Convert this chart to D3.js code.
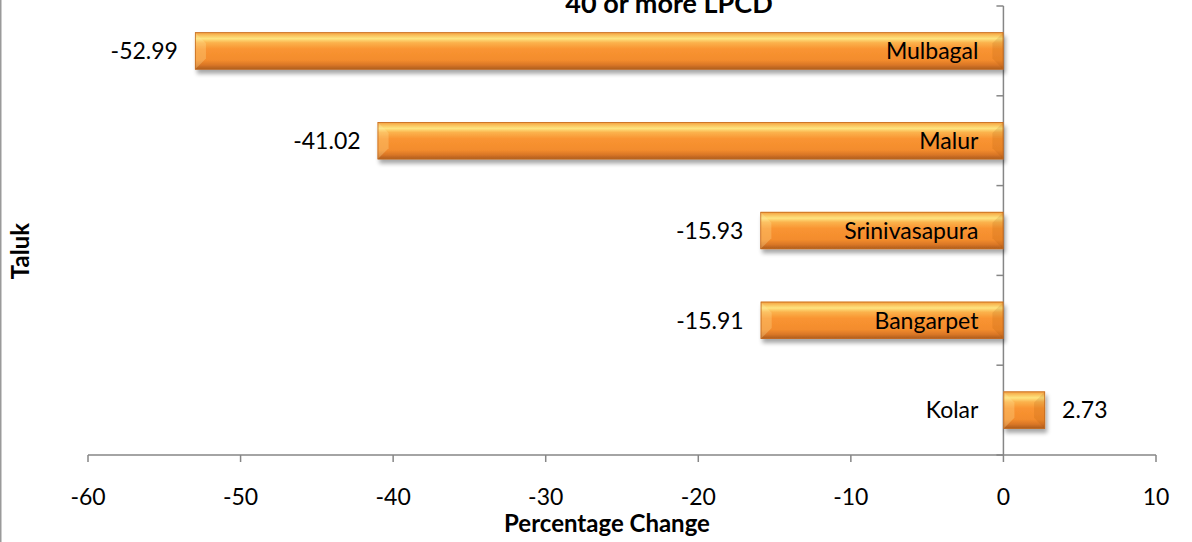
<!DOCTYPE html>
<html>
<head>
<meta charset="utf-8">
<script src="https://cdn.jsdelivr.net/npm/d3@7"></script>
<style>
  html, body { margin: 0; padding: 0; background: #fff; }
  svg { display: block; font-family: Lato, "Open Sans", sans-serif; }
</style>
</head>
<body>
<svg id="chart" width="1192" height="542"></svg>
<script>
const categories = ["Mulbagal", "Malur", "Srinivasapura", "Bangarpet", "Kolar"];
const values = [-52.99, -41.02, -15.93, -15.91, 2.73];
const xTicks = [-60, -50, -40, -30, -20, -10, 0, 10];
const titleText = "40 or more LPCD";
const xTitle = "Percentage Change";
const yTitle = "Taluk";

const data = categories.map((c, i) => ({ cat: c, val: values[i] }));

const svg = d3.select("#chart");
const W = 1192, H = 542;

const x = d3.scaleLinear().domain([-60, 10]).range([88, 1156]);
const y = d3.scaleBand().domain(categories).range([6, 455]).padding(0);
const barH = y.bandwidth() * 0.415;

const defs = svg.append("defs");
const grad = defs.append("linearGradient").attr("id", "barGrad")
  .attr("x1", 0).attr("y1", 0).attr("x2", 0).attr("y2", 1);
[[0, "#f39a3a"], [0.08, "#f9c05c"], [0.17, "#fee480"], [0.28, "#fbb24c"],
 [0.45, "#f99431"], [0.75, "#f38c2d"], [0.88, "#d97626"], [1, "#a95a1c"]]
  .forEach(([o, c]) => grad.append("stop").attr("offset", o).attr("stop-color", c));

const filt = defs.append("filter").attr("id", "shadow")
  .attr("x", "-10%").attr("y", "-30%").attr("width", "130%").attr("height", "180%");
filt.append("feGaussianBlur").attr("in", "SourceAlpha").attr("stdDeviation", 2.2).attr("result", "b");
filt.append("feOffset").attr("in", "b").attr("dx", 2).attr("dy", 4).attr("result", "o");
filt.append("feComponentTransfer").attr("in", "o").attr("result", "s")
  .append("feFuncA").attr("type", "linear").attr("slope", 0.35);
const fm = filt.append("feMerge");
fm.append("feMergeNode").attr("in", "s");
fm.append("feMergeNode").attr("in", "SourceGraphic");

// left border of chart frame
svg.append("line").attr("x1", 0.75).attr("x2", 0.75).attr("y1", 0).attr("y2", H)
  .attr("stroke", "#9a9a9a").attr("stroke-width", 1.5);

// axes
const axisColor = "#868686";
const x0 = x(0);
svg.append("line").attr("x1", x0).attr("x2", x0).attr("y1", y.range()[0]).attr("y2", y.range()[1])
  .attr("stroke", axisColor).attr("stroke-width", 1.5);
const yTickPos = categories.map(c => y(c)).concat([y.range()[1]]);
svg.selectAll(".ytick").data(yTickPos).enter().append("line")
  .attr("x1", x0 - 7).attr("x2", x0).attr("y1", d => d).attr("y2", d => d)
  .attr("stroke", axisColor).attr("stroke-width", 1.5);

const axisY = y.range()[1];
svg.append("line").attr("x1", x.range()[0]).attr("x2", x.range()[1]).attr("y1", axisY).attr("y2", axisY)
  .attr("stroke", axisColor).attr("stroke-width", 1.5);
svg.selectAll(".xtick").data(xTicks).enter().append("line")
  .attr("x1", d => x(d)).attr("x2", d => x(d)).attr("y1", axisY).attr("y2", axisY + 7)
  .attr("stroke", axisColor).attr("stroke-width", 1.5);
svg.selectAll(".xlab").data(xTicks).enter().append("text")
  .attr("x", d => x(d)).attr("y", 505).attr("text-anchor", "middle")
  .attr("font-size", 23).attr("fill", "#000").text(d => d);

// bars
const bars = svg.append("g");
data.forEach(d => {
  const bx = Math.min(x(d.val), x0);
  const bw = Math.abs(x(d.val) - x0);
  const by = y(d.cat) + (y.bandwidth() - barH) / 2;
  const g = bars.append("g").attr("filter", "url(#shadow)");
  g.append("rect").attr("x", bx).attr("y", by).attr("width", bw).attr("height", barH)
    .attr("fill", "url(#barGrad)");
  const b = Math.min(11, bw / 2.6, barH / 2.6);
  g.append("polygon").attr("points",
    [[bx, by], [bx + b, by + b], [bx + b, by + barH - b], [bx, by + barH]].map(p => p.join(",")).join(" "))
    .attr("fill", "#ffe9a0").attr("opacity", 0.28);
  g.append("polygon").attr("points",
    [[bx + bw, by], [bx + bw - b, by + b], [bx + bw - b, by + barH - b], [bx + bw, by + barH]].map(p => p.join(",")).join(" "))
    .attr("fill", "#8a3e00").attr("opacity", 0.12);
  g.append("rect").attr("x", bx + 0.4).attr("y", by + 0.4).attr("width", bw - 0.8).attr("height", barH - 0.8)
    .attr("fill", "none").attr("stroke", "#c46b22").attr("stroke-width", 0.8);
});

// value labels
svg.selectAll(".vlab").data(data).enter().append("text")
  .attr("x", d => d.val < 0 ? x(d.val) - 17 : x(d.val) + 17)
  .attr("y", d => y(d.cat) + y.bandwidth() / 2)
  .attr("dy", "0.36em")
  .attr("text-anchor", d => d.val < 0 ? "end" : "start")
  .attr("font-size", 23).attr("fill", "#000")
  .text(d => d.val.toFixed(2));

// category labels next to the axis
svg.selectAll(".clab").data(data).enter().append("text")
  .attr("x", x0 - 25)
  .attr("y", d => y(d.cat) + y.bandwidth() / 2)
  .attr("dy", "0.36em")
  .attr("text-anchor", "end")
  .attr("font-size", 23).attr("fill", "#000")
  .text(d => d.cat);

// titles
svg.append("text").attr("x", 669).attr("y", 13).attr("text-anchor", "middle")
  .attr("font-size", 27).attr("font-weight", "bold").text(titleText);
svg.append("text").attr("x", 607).attr("y", 532).attr("text-anchor", "middle")
  .attr("font-size", 24).attr("font-weight", "bold").text(xTitle);
svg.append("text").attr("transform", "translate(29,251) rotate(-90)").attr("text-anchor", "middle")
  .attr("font-size", 24).attr("font-weight", "bold").text(yTitle);
</script>
</body>
</html>
